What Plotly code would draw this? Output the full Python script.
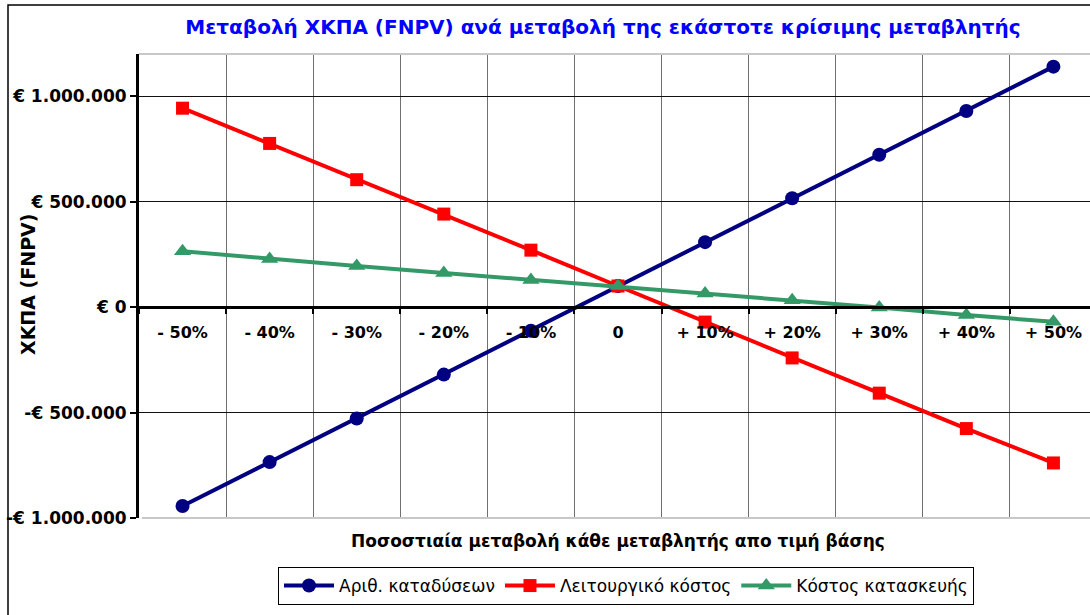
import plotly.graph_objects as go

categories = ["- 50%", "- 40%", "- 30%", "- 20%", "- 10%", "0",
              "+ 10%", "+ 20%", "+ 30%", "+ 40%", "+ 50%"]
dives = [-943000, -735000, -528000, -320000, -112000, 100000,
         308000, 516000, 722000, 930000, 1140000]
op_cost = [943000, 776000, 604000, 441000, 270000, 100000,
           -71000, -241000, -408000, -576000, -739000]
build_cost = [265000, 228000, 195000, 162000, 129000, 100000,
              64000, 33000, -2000, -38000, -70000]
series_names = ["Αριθ. καταδύσεων", "Λειτουργικό κόστος", "Κόστος κατασκευής"]
y_tickvals = [-1000000, -500000, 0, 500000, 1000000]
y_ticktext = ["-€ 1.000.000", "-€ 500.000", "€ 0", "€ 500.000", "€ 1.000.000"]

FONT = "DejaVu Sans, Verdana, sans-serif"

fig = go.Figure()
styles = [
    dict(color="#000080", symbol="circle", size=14),
    dict(color="#FF0000", symbol="square", size=13),
    dict(color="#339966", symbol="triangle-up", size=15),
]
for name, vals, st in zip(series_names, [dives, op_cost, build_cost], styles):
    fig.add_trace(go.Scatter(
        x=categories, y=vals, name=name, mode="lines+markers",
        line=dict(color=st["color"], width=4),
        marker=dict(color=st["color"], symbol=st["symbol"], size=st["size"]),
        cliponaxis=False,
    ))

L, R, T, B = 139, 1090, 54, 518
PW, PH = R - L, B - T

ymin, ymax = -1000000, 1200000
fig.update_layout(
    width=1090, height=615,
    margin=dict(l=L, r=1090 - R, t=T, b=615 - B, autoexpand=False),
    paper_bgcolor="white", plot_bgcolor="white",
    font=dict(family=FONT, color="black"),
    title=dict(
        text="Μεταβολή ΧΚΠΑ (FNPV) ανά μεταβολή της εκάστοτε κρίσιμης μεταβλητής",
        x=603 / 1090, xanchor="center", y=1 - 27 / 615, yanchor="middle",
        font=dict(family=FONT, size=20, color="#0000FF", weight="bold"),
    ),
    showlegend=True,
    legend=dict(
        orientation="h", x=(626 - L) / PW, xanchor="center",
        y=-(567 - B) / PH, yanchor="top",
        bordercolor="black", borderwidth=1, bgcolor="white",
        font=dict(family=FONT, size=17, color="black"),
        itemwidth=50, tracegroupgap=0,
    ),
    xaxis=dict(
        type="category", range=[-0.5, 10.42], automargin=False,
        anchor="free", position=(0 - ymin) / (ymax - ymin),
        tickson="boundaries", showgrid=True, gridcolor="#707070", gridwidth=1,
        showline=True, linecolor="black", linewidth=3,
        ticks="outside", ticklen=5, tickwidth=2, tickcolor="black",
        ticklabelstandoff=10,
        tickfont=dict(family=FONT, size=16, color="black", weight="bold"),
    ),
    yaxis=dict(
        range=[ymin, ymax], tickvals=y_tickvals, ticktext=y_ticktext, automargin=False,
        showgrid=True, gridcolor="#111111", gridwidth=1, zeroline=False,
        showline=True, linecolor="black", linewidth=3,
        ticks="outside", ticklen=6, tickwidth=2, tickcolor="black",
        tickfont=dict(family=FONT, size=17, color="black", weight="bold"),
    ),
)

# plot area borders (light gray) and outer chart border
fig.add_shape(type="line", xref="x domain", yref="y domain", x0=0, x1=1, y0=1, y1=1,
              line=dict(color="#C8C8C8", width=2), layer="above")
fig.add_shape(type="line", xref="x domain", yref="y domain", x0=0.003, x1=1, y0=0, y1=0,
              line=dict(color="#C8C8C8", width=2), layer="above")
fig.add_shape(type="rect", xref="paper", yref="paper",
              x0=(8 - L) / PW, x1=1.02, y0=-0.3, y1=(B - 5) / PH,
              line=dict(color="black", width=1.5), layer="below")

fig.add_annotation(text="Ποσοστιαία μεταβολή κάθε μεταβλητής απο τιμή βάσης",
                   xref="paper", yref="paper", x=(618 - L) / PW, y=-(541 - B) / PH,
                   xanchor="center", yanchor="middle", showarrow=False,
                   font=dict(family=FONT, size=17, color="black", weight="bold"))
fig.add_annotation(text="ΧΚΠΑ (FNPV)", textangle=-90,
                   xref="paper", yref="paper", x=(28 - L) / PW, y=(B - 285) / PH,
                   xanchor="center", yanchor="middle", showarrow=False,
                   font=dict(family=FONT, size=19, color="black", weight="bold"))

fig.write_html("out.html", config={"displayModeBar": False},
               post_script="document.body.style.margin='0px';")
